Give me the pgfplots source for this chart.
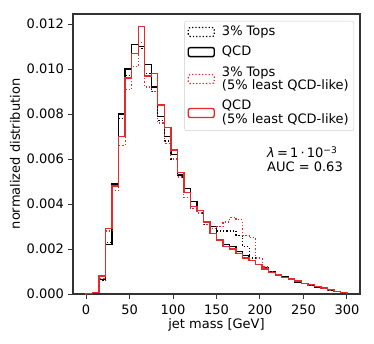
\documentclass[border=0pt]{standalone}
\usepackage{fontspec}
\setmainfont{DejaVu Sans}
\usepackage{pgfplots}
\usepackage{pgfplotstable}
\pgfplotsset{compat=1.18}
\definecolor{mred}{HTML}{E32B2B}
\definecolor{spine}{HTML}{333333}

\pgfplotstableread{
x     qcd      tops     qcdl     topsl
0     0        0        0        0
0     0.00002  0.00002  0.00001  0.00001
7.5   0.00007  0.00007  0.00006  0.00006
15    0.00065  0.0006   0.0008   0.0007
22.5  0.0022   0.0023   0.0029   0.0028
30    0.0049   0.0048   0.0048   0.0046
37.5  0.0080   0.0078   0.0070   0.0066
45    0.0100   0.0097   0.0096   0.0091
52.5  0.0111   0.0107   0.0107   0.0101
60    0.0110   0.0109   0.0119   0.0112
67.5  0.0102   0.0098   0.0097   0.0092
75    0.0092   0.0090   0.0098   0.0090
82.5  0.0079   0.0077   0.0084   0.0076
90    0.0070   0.0068   0.0074   0.0067
97.5  0.0062   0.0060   0.0064   0.0060
105   0.0053   0.0052   0.0054   0.0052
112.5 0.0047   0.0045   0.0045   0.0043
120   0.0041   0.0039   0.0039   0.0038
127.5 0.0037   0.0036   0.0037   0.0036
135   0.0032   0.0031   0.0032   0.0031
142.5 0.0030   0.0030   0.0027   0.0029
150   0.0024   0.0028   0.0024   0.0030
157.5 0.0022   0.0028   0.0021   0.0032
165   0.0021   0.0028   0.0020   0.0034
172.5 0.0019   0.0026   0.0018   0.0033
180   0.0017   0.0021   0.0016   0.0026
187.5 0.0015   0.0016   0.0015   0.0025
195   0.0013   0.0013   0.0013   0.0016
202.5 0.00115  0.00115  0.00112  0.0012
210   0.0010   0.0010   0.00095  0.0010
217.5 0.00088  0.00088  0.00085  0.00087
225   0.00075  0.00076  0.00074  0.00075
232.5 0.00064  0.00065  0.00066  0.00066
240   0.00054  0.00055  0.00057  0.00056
247.5 0.00046  0.00046  0.00048  0.00047
255   0.00038  0.00038  0.00041  0.00039
262.5 0.00031  0.00031  0.00033  0.00032
270   0.00024  0.00024  0.00026  0.00025
277.5 0.00018  0.00018  0.00019  0.00018
285   0.00012  0.00012  0.00012  0.00012
292.5 0.00006  0.00006  0.00006  0.00006
300   0.00006  0.00006  0.00006  0.00006
300   0        0        0        0
}\hist

\begin{document}
\fontsize{13}{15.6}\selectfont
\begin{tikzpicture}
\begin{axis}[
  scale only axis,
  width=287pt, height=280pt,
  xmin=-15, xmax=315,
  ymin=0, ymax=0.01245,
  axis line style={spine, line width=1.1pt},
  tick style={spine, line width=1pt},
  tick align=outside,
  major tick length=4.5pt,
  xtick={0,50,100,150,200,250,300},
  ytick={0,0.002,0.004,0.006,0.008,0.010,0.012},
  xtick pos=bottom, ytick pos=left,
  scaled y ticks=false,
  yticklabel style={/pgf/number format/.cd, fixed, fixed zerofill, precision=3},
  xticklabel style={yshift=-1.5pt},
  /pgf/number format/assume math mode=true,
  xlabel={jet mass [GeV]},
  xlabel style={at={(rel axis cs:0.5,0)}, anchor=center, yshift=-31pt},
  clip=false,
  legend cell align=left,
  legend image code/.code={\draw[#1] (0pt,-4.5pt) rectangle (26pt,4.5pt);},
  legend style={
    at={(0.979,0.975)}, anchor=north east,
    draw=black!20, rounded corners=2pt,
    fill=white, fill opacity=0.8, text opacity=1,
    font=\fontsize{13}{13.8}\selectfont,
    cells={align=left},
    row sep=4.5pt, column sep=5pt,
    inner xsep=3pt, inner ysep=3pt,
  },
]
\addplot[black, line width=1.2pt, dash pattern=on 1.3pt off 2pt, const plot] table[x=x, y=tops] {\hist};
\addlegendentry{3\% Tops}
\addplot[black, line width=1.4pt, const plot] table[x=x, y=qcd] {\hist};
\addlegendentry{QCD}
\addplot[mred, line width=1.2pt, dash pattern=on 1.3pt off 2pt, const plot] table[x=x, y=topsl] {\hist};
\addlegendentry{3\% Tops\\(5\% least QCD-like)}
\addplot[mred, line width=1.4pt, const plot] table[x=x, y=qcdl] {\hist};
\addlegendentry{QCD\\(5\% least QCD-like)}
\node[anchor=west, align=left, inner sep=0pt] at (rel axis cs:0.676,0.482)
  {\textit{λ}\,=\,1\,·\,10\textsuperscript{−3}\\[-2pt]AUC = 0.63};
\node[rotate=90, anchor=center] at ([xshift=-58pt]rel axis cs:0,0.5) {normalized distribution};
\end{axis}
\pgfresetboundingbox
\path ([shift={(-73pt,-49pt)}]current axis.south west) rectangle ([shift={(14pt,14pt)}]current axis.north east);
\end{tikzpicture}
\end{document}
